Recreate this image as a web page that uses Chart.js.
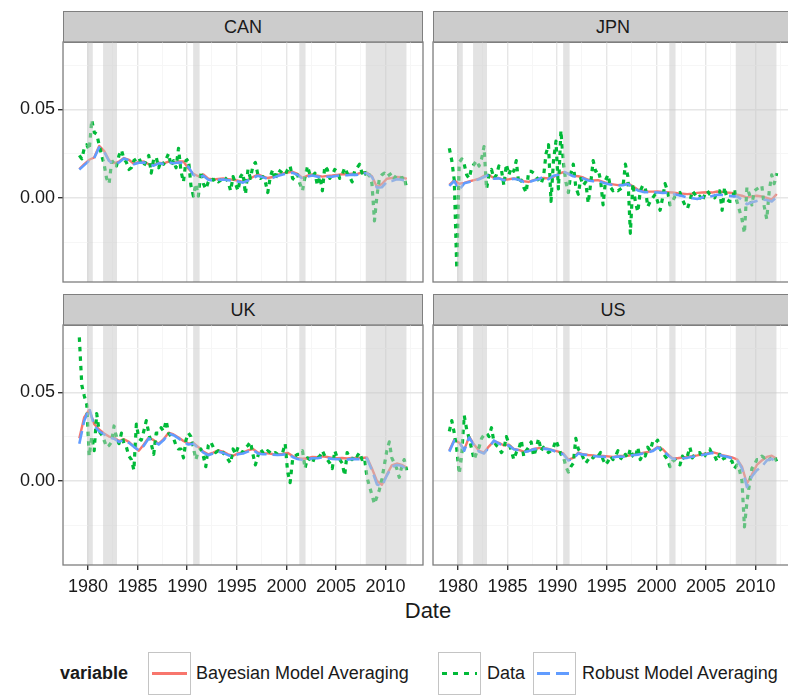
<!DOCTYPE html>
<html>
<head>
<meta charset="utf-8">
<script src="https://cdn.jsdelivr.net/npm/chart.js@4.4.1/dist/chart.umd.min.js"></script>
<style>
  html, body { margin: 0; padding: 0; background: #fff; overflow: hidden; }
  body { width: 788px; height: 695px; position: relative; font-family: 'Liberation Sans', Arial, sans-serif; color: #1a1a1a; }
  canvas { position: absolute; }
  .strip { position: absolute; box-sizing: border-box; height: 32px; background: #cccccc; border: 1px solid #7f7f7f;
           font-size: 18px; line-height: 30px; text-align: center; }
  .abs { position: absolute; white-space: nowrap; }
  .key { position: absolute; top: 652px; width: 43px; height: 43px; }
  .ltext { position: absolute; top: 662px; height: 22px; line-height: 22px; font-size: 18px; white-space: nowrap; }
</style>
</head>
<body>

<div class="abs" style="left:0; width:856px; top:598px; height:26px; line-height:26px; font-size:22px; text-align:center;">Date</div>

<div class="ltext" style="left:60px; font-weight:bold;">variable</div>
<svg class="key" style="left:148px"><rect x="0.5" y="0.5" width="42" height="42" fill="#fff" stroke="#c4c4c4"/><line x1="4" y1="21.5" x2="39" y2="21.5" stroke="#F8766D" stroke-width="3"/></svg>
<div class="ltext" style="left:196px;">Bayesian Model Averaging</div>
<svg class="key" style="left:438px"><rect x="0.5" y="0.5" width="42" height="42" fill="#fff" stroke="#c4c4c4"/><line x1="4" y1="21.5" x2="39" y2="21.5" stroke="#00BA38" stroke-width="3" stroke-dasharray="5 6"/></svg>
<div class="ltext" style="left:487px;">Data</div>
<svg class="key" style="left:533px"><rect x="0.5" y="0.5" width="42" height="42" fill="#fff" stroke="#c4c4c4"/><line x1="4" y1="21.5" x2="39" y2="21.5" stroke="#619CFF" stroke-width="3" stroke-dasharray="13 6"/></svg>
<div class="ltext" style="left:582px;">Robust Model Averaging</div>

<script>
// quarterly series start in early 1979; model fits are kept at half-year steps
const FIRST_DATE = 1979.125;

const X_LABELS = [1980, 1985, 1990, 1995, 2000, 2005, 2010];
const Y_LABELS = [0, 0.05];

// recession periods shaded in every panel
const REC_START = [1979.93, 1981.52, 1990.6, 2001.3, 2008.0];
const REC_END   = [1980.48, 1982.92, 1991.25, 2001.93, 2012.1];

const CAN_DATA = [
  0.024, 0.022, 0.028, 0.030, 0.027, 0.044, 0.037, 0.036, 0.030, 0.024,
  0.019, 0.011, 0.008, 0.020, 0.021, 0.018, 0.024, 0.027, 0.022, 0.020,
  0.016, 0.017, 0.021, 0.022, 0.023, 0.019, 0.018, 0.021, 0.024, 0.014,
  0.022, 0.023, 0.017, 0.021, 0.019, 0.022, 0.025, 0.018, 0.021, 0.017,
  0.028, 0.015, 0.009, 0.021, 0.022, 0.007, 0.001, 0.008, 0.001, 0.015,
  0.008, 0.005, 0.009, 0.011, 0.010, 0.011, 0.009, 0.010, 0.012, 0.011,
  0.009, 0.004, 0.012, 0.008, 0.004, 0.012, 0.014, 0.002, 0.016, 0.011,
  0.018, 0.020, 0.013, 0.011, 0.012, 0.009, 0.003, 0.012, 0.016, 0.010,
  0.016, 0.015, 0.014, 0.013, 0.016, 0.018, 0.011, 0.010, 0.013, 0.008,
  0.004, 0.012, 0.018, 0.013, 0.012, 0.014, 0.007, 0.012, 0.004, 0.018,
  0.016, 0.011, 0.013, 0.016, 0.015, 0.011, 0.013, 0.017, 0.014, 0.012,
  0.009, 0.015, 0.017, 0.019, 0.014, 0.016, 0.011, 0.013, 0.008, -0.013,
  0.001, 0.011, 0.013, 0.014, 0.012, 0.013, 0.014, 0.011, 0.013, 0.012,
  0.011, 0.012, 0.005
];
const CAN_BMA = [
  0.0163, 0.0190, 0.0215, 0.0228, 0.0293, 0.0265, 0.0212, 0.0196, 0.0205, 0.0225,
  0.0215, 0.0192, 0.0203, 0.0205, 0.0190, 0.0185, 0.0198, 0.0195, 0.0205, 0.0198,
  0.0205, 0.0205, 0.0165, 0.0135, 0.0122, 0.0132, 0.0108, 0.0104, 0.0107, 0.0110,
  0.0106, 0.0102, 0.0097, 0.0090, 0.0102, 0.0118, 0.0132, 0.0122, 0.0112, 0.0118,
  0.0130, 0.0138, 0.0143, 0.0147, 0.0135, 0.0113, 0.0125, 0.0132, 0.0126, 0.0120,
  0.0124, 0.0126, 0.0130, 0.0133, 0.0133, 0.0136, 0.0134, 0.0145, 0.0142, 0.0122,
  0.0062, 0.0078, 0.0108, 0.0112, 0.0118, 0.0117, 0.0107
];
const CAN_RMA = [
  0.0160, 0.0185, 0.0210, 0.0225, 0.0285, 0.0260, 0.0208, 0.0190, 0.0200, 0.0222,
  0.0212, 0.0190, 0.0198, 0.0200, 0.0188, 0.0182, 0.0195, 0.0192, 0.0200, 0.0195,
  0.0200, 0.0198, 0.0175, 0.0130, 0.0115, 0.0125, 0.0102, 0.0098, 0.0102, 0.0104,
  0.0100, 0.0098, 0.0092, 0.0086, 0.0098, 0.0112, 0.0125, 0.0116, 0.0108, 0.0113,
  0.0124, 0.0132, 0.0138, 0.0142, 0.0130, 0.0108, 0.0120, 0.0126, 0.0120, 0.0115,
  0.0119, 0.0120, 0.0125, 0.0128, 0.0128, 0.0131, 0.0130, 0.0142, 0.0138, 0.0118,
  0.0058, 0.0060, 0.0090, 0.0095, 0.0105, 0.0102, 0.0095
];

const JPN_DATA = [
  0.028, 0.021, 0.010, -0.040, 0.020, 0.022, 0.019, 0.013, 0.011, 0.017,
  0.019, 0.021, 0.018, 0.022, 0.029, 0.005, 0.013, 0.016, 0.011, 0.013,
  0.018, 0.016, 0.007, 0.019, 0.013, 0.017, 0.015, 0.021, 0.008, 0.010,
  0.006, 0.003, 0.015, 0.015, 0.014, 0.012, 0.010, 0.008, 0.012, 0.025,
  0.030, -0.002, 0.021, 0.032, 0.005, 0.038, 0.020, 0.009, 0.003, 0.014,
  0.019, 0.006, 0.002, 0.011, 0.007, 0.009, -0.003, 0.008, 0.021, 0.015,
  0.016, 0.010, -0.004, 0.010, 0.013, 0.006, 0.004, 0.005, 0.004, 0.005,
  0.006, 0.019, 0.012, -0.020, 0.008, -0.002, -0.008, 0.004, 0.007, 0.006,
  -0.005, -0.002, 0.000, 0.002, -0.002, -0.007, 0.000, 0.008, 0.004, -0.004,
  -0.002, 0.001, 0.002, 0.003, -0.001, -0.004, -0.006, -0.002, 0.004, 0.002,
  0.000, 0.001, -0.002, 0.002, 0.004, 0.002, 0.001, 0.000, 0.004, 0.004,
  -0.007, 0.006, -0.001, -0.002, -0.002, 0.005, -0.002, -0.007, -0.012, -0.020,
  0.006, 0.002, -0.004, 0.004, 0.005, 0.006, 0.007, -0.005, -0.012, 0.004,
  0.013, 0.008, 0.014
];
const JPN_BMA = [
  0.0073, 0.0098, 0.0080, 0.0085, 0.0093, 0.0100, 0.0108, 0.0125, 0.0128, 0.0112,
  0.0112, 0.0102, 0.0105, 0.0110, 0.0105, 0.0094, 0.0090, 0.0100, 0.0108, 0.0112,
  0.0110, 0.0118, 0.0135, 0.0145, 0.0138, 0.0125, 0.0122, 0.0115, 0.0102, 0.0098,
  0.0100, 0.0090, 0.0080, 0.0076, 0.0072, 0.0076, 0.0082, 0.0065, 0.0047, 0.0040,
  0.0036, 0.0035, 0.0036, 0.0034, 0.0032, 0.0030, 0.0026, 0.0024, 0.0021, 0.0024,
  0.0028, 0.0030, 0.0032, 0.0030, 0.0036, 0.0034, 0.0030, 0.0028, 0.0018, 0.0012,
  0.0002, 0.0008, 0.0012, 0.0008, 0.0000, -0.0010, 0.0022
];
const JPN_RMA = [
  0.0068, 0.0095, 0.0045, 0.0082, 0.0090, 0.0098, 0.0105, 0.0118, 0.0130, 0.0108,
  0.0110, 0.0100, 0.0103, 0.0108, 0.0102, 0.0090, 0.0088, 0.0098, 0.0105, 0.0120,
  0.0105, 0.0125, 0.0130, 0.0150, 0.0135, 0.0122, 0.0118, 0.0110, 0.0098, 0.0094,
  0.0096, 0.0086, 0.0078, 0.0072, 0.0070, 0.0072, 0.0078, 0.0060, 0.0042, 0.0034,
  0.0032, 0.0032, 0.0030, 0.0028, 0.0030, 0.0022, 0.0016, 0.0010, 0.0002, -0.0002,
  -0.0006, 0.0002, 0.0008, 0.0010, 0.0017, 0.0016, 0.0012, 0.0010, 0.0008, -0.0010,
  -0.0036, -0.0025, -0.0017, -0.0010, -0.0012, -0.0020, 0.0005
];

const UK_DATA = [
  0.081, 0.054, 0.048, 0.043, 0.014, 0.025, 0.017, 0.038, 0.028, 0.026,
  0.023, 0.019, 0.020, 0.022, 0.031, 0.024, 0.021, 0.027, 0.021, 0.019,
  0.014, 0.012, 0.006, 0.032, 0.024, 0.023, 0.028, 0.034, 0.027, 0.021,
  0.015, 0.027, 0.027, 0.030, 0.028, 0.034, 0.027, 0.025, 0.024, 0.020,
  0.018, 0.018, 0.013, 0.023, 0.027, 0.025, 0.019, 0.012, 0.017, 0.018,
  0.014, 0.008, 0.020, 0.022, 0.019, 0.016, 0.017, 0.015, 0.016, 0.014,
  0.012, 0.010, 0.018, 0.015, 0.019, 0.017, 0.016, 0.019, 0.020, 0.022,
  0.015, 0.009, 0.014, 0.018, 0.016, 0.015, 0.017, 0.016, 0.015, 0.016,
  0.015, 0.015, 0.016, 0.021, 0.005, -0.001, 0.012, 0.014, 0.015, 0.015,
  0.017, 0.007, 0.013, 0.012, 0.010, 0.014, 0.013, 0.014, 0.017, 0.014,
  0.012, 0.010, 0.007, 0.017, 0.013, 0.012, 0.010, 0.003, 0.016, 0.013,
  0.012, 0.015, 0.014, 0.016, 0.012, 0.013, 0.002, -0.003, -0.008, -0.013,
  -0.009, -0.005, 0.001, 0.009, 0.017, 0.022, 0.013, 0.010, 0.007, 0.002,
  0.008, 0.012, 0.006
];
const UK_BMA = [
  0.0240, 0.0360, 0.0400, 0.0320, 0.0290, 0.0268, 0.0250, 0.0245, 0.0225, 0.0235,
  0.0220, 0.0195, 0.0170, 0.0205, 0.0245, 0.0230, 0.0210, 0.0235, 0.0272, 0.0262,
  0.0245, 0.0225, 0.0210, 0.0215, 0.0190, 0.0165, 0.0150, 0.0160, 0.0172, 0.0165,
  0.0150, 0.0142, 0.0155, 0.0160, 0.0172, 0.0180, 0.0160, 0.0155, 0.0155, 0.0152,
  0.0150, 0.0152, 0.0158, 0.0140, 0.0128, 0.0125, 0.0128, 0.0135, 0.0134, 0.0138,
  0.0135, 0.0130, 0.0128, 0.0129, 0.0127, 0.0130, 0.0128, 0.0130, 0.0132, 0.0070,
  0.0000, -0.0022, 0.0035, 0.0088, 0.0098, 0.0090, 0.0075
];
const UK_RMA = [
  0.0210, 0.0340, 0.0410, 0.0310, 0.0280, 0.0262, 0.0245, 0.0238, 0.0220, 0.0230,
  0.0215, 0.0192, 0.0172, 0.0198, 0.0240, 0.0225, 0.0205, 0.0230, 0.0268, 0.0258,
  0.0240, 0.0220, 0.0205, 0.0210, 0.0185, 0.0160, 0.0145, 0.0155, 0.0165, 0.0158,
  0.0145, 0.0138, 0.0150, 0.0155, 0.0165, 0.0175, 0.0155, 0.0150, 0.0150, 0.0148,
  0.0146, 0.0148, 0.0153, 0.0135, 0.0123, 0.0118, 0.0122, 0.0128, 0.0128, 0.0132,
  0.0128, 0.0124, 0.0122, 0.0123, 0.0120, 0.0124, 0.0122, 0.0124, 0.0126, 0.0060,
  -0.0020, -0.0030, 0.0030, 0.0080, 0.0090, 0.0085, 0.0068
];

const US_DATA = [
  0.028, 0.034, 0.027, 0.018, 0.004, 0.015, 0.037, 0.029, 0.024, 0.018,
  0.012, 0.016, 0.019, 0.024, 0.026, 0.027, 0.025, 0.030, 0.022, 0.020,
  0.019, 0.016, 0.018, 0.025, 0.021, 0.017, 0.012, 0.016, 0.018, 0.023,
  0.014, 0.017, 0.019, 0.022, 0.014, 0.018, 0.024, 0.017, 0.019, 0.018,
  0.016, 0.017, 0.019, 0.023, 0.019, 0.015, 0.014, 0.008, 0.005, 0.008,
  0.010, 0.024, 0.018, 0.016, 0.013, 0.010, 0.012, 0.014, 0.013, 0.015,
  0.014, 0.016, 0.012, 0.009, 0.011, 0.014, 0.012, 0.014, 0.017, 0.013,
  0.012, 0.015, 0.013, 0.018, 0.014, 0.013, 0.019, 0.012, 0.015, 0.014,
  0.019, 0.017, 0.022, 0.021, 0.023, 0.018, 0.016, 0.014, 0.012, 0.008,
  0.011, 0.012, 0.010, 0.009, 0.014, 0.012, 0.014, 0.019, 0.013, 0.015,
  0.016, 0.016, 0.013, 0.014, 0.017, 0.018, 0.015, 0.014, 0.011, 0.015,
  0.012, 0.013, 0.013, 0.012, 0.011, 0.007, 0.009, 0.006, 0.000, -0.026,
  -0.012, -0.002, 0.007, 0.009, 0.012, 0.012, 0.014, 0.013, 0.014, 0.012,
  0.013, 0.014, 0.011
];
const US_BMA = [
  0.0172, 0.0232, 0.0215, 0.0175, 0.0250, 0.0205, 0.0170, 0.0160, 0.0195, 0.0225,
  0.0215, 0.0200, 0.0205, 0.0180, 0.0175, 0.0165, 0.0170, 0.0180, 0.0185, 0.0185,
  0.0180, 0.0172, 0.0165, 0.0155, 0.0120, 0.0130, 0.0160, 0.0150, 0.0146, 0.0144,
  0.0140, 0.0140, 0.0138, 0.0135, 0.0140, 0.0140, 0.0142, 0.0148, 0.0152, 0.0158,
  0.0163, 0.0172, 0.0192, 0.0180, 0.0150, 0.0128, 0.0128, 0.0132, 0.0135, 0.0140,
  0.0144, 0.0150, 0.0155, 0.0162, 0.0155, 0.0145, 0.0140, 0.0132, 0.0122, 0.0080,
  -0.0015, 0.0035, 0.0090, 0.0115, 0.0135, 0.0142, 0.0125
];
const US_RMA = [
  0.0165, 0.0228, 0.0220, 0.0170, 0.0245, 0.0200, 0.0165, 0.0155, 0.0190, 0.0228,
  0.0210, 0.0198, 0.0200, 0.0178, 0.0172, 0.0162, 0.0168, 0.0178, 0.0182, 0.0182,
  0.0178, 0.0170, 0.0160, 0.0150, 0.0115, 0.0125, 0.0155, 0.0148, 0.0145, 0.0140,
  0.0138, 0.0136, 0.0135, 0.0132, 0.0138, 0.0136, 0.0140, 0.0145, 0.0148, 0.0155,
  0.0160, 0.0168, 0.0188, 0.0175, 0.0146, 0.0125, 0.0124, 0.0128, 0.0130, 0.0136,
  0.0140, 0.0146, 0.0152, 0.0158, 0.0152, 0.0142, 0.0136, 0.0128, 0.0120, 0.0070,
  -0.0035, 0.0025, 0.0060, 0.0080, 0.0115, 0.0125, 0.0105
];

const COLORS = { bma: '#F8766D', data: '#00BA38', rma: '#619CFF' };

const QUARTERS   = CAN_DATA.map((_, i) => FIRST_DATE + i / 4);
const HALF_YEARS = CAN_BMA.map((_, i) => FIRST_DATE + i / 2);

// panel grid: two columns, two rows, same scales everywhere
const X_MIN = 1977.48, X_MAX = 2013.77;
const Y_MIN = -0.0475, Y_MAX = 0.088;
const COL_LEFT = [63, 433];
const ROW_TOP  = [42, 325];
const PANEL_W = 360, PANEL_H = 240;
const PAD = 2;

const X_GRID = [];
for (let v = 1977.5; v <= 2013; v += 2.5) X_GRID.push(v);
const Y_GRID = [-0.025, 0, 0.025, 0.05, 0.075];

const isMajorX = v => X_LABELS.some(l => Math.abs(l - v) < 1e-6);
const isMajorY = v => Y_LABELS.some(l => Math.abs(l - v) < 1e-9);

Chart.defaults.font.family = "'Liberation Sans', Arial, sans-serif";
Chart.defaults.color = '#1a1a1a';

const panelDecor = {
  id: 'panelDecor',
  afterDatasetsDraw(chart) {
    const { ctx, chartArea: a, scales: { x } } = chart;
    ctx.save();
    ctx.beginPath();
    ctx.rect(a.left, a.top, a.right - a.left, a.bottom - a.top);
    ctx.clip();
    ctx.fillStyle = 'rgba(200,200,200,0.5)';
    REC_START.forEach((s, i) => {
      const x0 = x.getPixelForValue(s);
      const x1 = x.getPixelForValue(REC_END[i]);
      ctx.fillRect(x0, a.top, x1 - x0, a.bottom - a.top);
    });
    ctx.restore();
  },
  afterDraw(chart) {
    const { ctx, chartArea: a } = chart;
    ctx.save();
    ctx.strokeStyle = '#7f7f7f';
    ctx.lineWidth = 1.3;
    ctx.strokeRect(a.left, a.top, a.right - a.left, a.bottom - a.top);
    ctx.restore();
  }
};

function points(dates, values) {
  return values.map((v, i) => ({ x: dates[i], y: v }));
}

// keep the plot area exactly the panel size: no extra room for edge labels
function noEdgePadding(s) {
  s.paddingTop = 0;
  s.paddingBottom = 0;
  s.paddingLeft = 0;
  s.paddingRight = 0;
}

function drawPanel(name, dataVals, bmaVals, rmaVals, col, row) {
  const showY = col === 0;
  const showX = row === 1;
  const yW = showY ? 61 : 0;
  const xH = showX ? 45 : 0;

  const strip = document.createElement('div');
  strip.className = 'strip';
  strip.textContent = name;
  strip.style.left = COL_LEFT[col] + 'px';
  strip.style.width = PANEL_W + 'px';
  strip.style.top = (ROW_TOP[row] - 31) + 'px';
  document.body.appendChild(strip);

  const canvas = document.createElement('canvas');
  canvas.width = PAD + yW + PANEL_W + PAD;
  canvas.height = PAD + PANEL_H + xH + (showX ? 0 : PAD);
  canvas.style.left = (COL_LEFT[col] - yW - PAD) + 'px';
  canvas.style.top = (ROW_TOP[row] - PAD) + 'px';
  document.body.appendChild(canvas);

  new Chart(canvas, {
    type: 'line',
    data: {
      datasets: [
        { label: 'Robust Model Averaging', data: points(HALF_YEARS, rmaVals),
          borderColor: COLORS.rma, borderWidth: 2.6, borderDash: [13, 6] },
        { label: 'Data', data: points(QUARTERS, dataVals),
          borderColor: COLORS.data, borderWidth: 3.2, borderDash: [4.5, 5] },
        { label: 'Bayesian Model Averaging', data: points(HALF_YEARS, bmaVals),
          borderColor: COLORS.bma, borderWidth: 2.4 }
      ]
    },
    options: {
      responsive: false,
      animation: false,
      devicePixelRatio: 1,
      layout: { padding: { left: PAD, right: PAD, top: PAD, bottom: showX ? 0 : PAD } },
      elements: {
        point: { radius: 0 },
        line: { tension: 0, fill: false, borderJoinStyle: 'round', borderCapStyle: 'butt' }
      },
      plugins: { legend: { display: false }, tooltip: { enabled: false } },
      scales: {
        x: {
          type: 'linear',
          min: X_MIN,
          max: X_MAX,
          afterBuildTicks: s => { s.ticks = X_GRID.map(v => ({ value: v })); },
          afterFit: s => { s.height = xH; noEdgePadding(s); },
          border: { display: false },
          grid: {
            color: c => isMajorX(c.tick.value) ? '#e6e6e6' : '#f6f6f6',
            lineWidth: c => isMajorX(c.tick.value) ? 1.4 : 1,
            drawTicks: showX,
            tickLength: 5,
            tickColor: c => isMajorX(c.tick.value) ? '#333' : 'rgba(0,0,0,0)'
          },
          ticks: {
            display: showX,
            autoSkip: false,
            maxRotation: 0,
            padding: 6,
            font: { size: 18 },
            callback: v => isMajorX(v) ? String(Math.round(v)) : ''
          }
        },
        y: {
          min: Y_MIN,
          max: Y_MAX,
          afterBuildTicks: s => { s.ticks = Y_GRID.map(v => ({ value: v })); },
          afterFit: s => { s.width = yW; noEdgePadding(s); },
          border: { display: false },
          grid: {
            color: c => isMajorY(c.tick.value) ? '#e6e6e6' : '#f6f6f6',
            lineWidth: c => isMajorY(c.tick.value) ? 1.4 : 1,
            drawTicks: showY,
            tickLength: 5,
            tickColor: c => isMajorY(c.tick.value) ? '#333' : 'rgba(0,0,0,0)'
          },
          ticks: {
            display: showY,
            padding: 3,
            font: { size: 18 },
            callback: v => isMajorY(v) ? v.toFixed(2) : ''
          }
        }
      }
    },
    plugins: [panelDecor]
  });
}

drawPanel('CAN', CAN_DATA, CAN_BMA, CAN_RMA, 0, 0);
drawPanel('JPN', JPN_DATA, JPN_BMA, JPN_RMA, 1, 0);
drawPanel('UK',  UK_DATA,  UK_BMA,  UK_RMA,  0, 1);
drawPanel('US',  US_DATA,  US_BMA,  US_RMA,  1, 1);
</script>
</body>
</html>
